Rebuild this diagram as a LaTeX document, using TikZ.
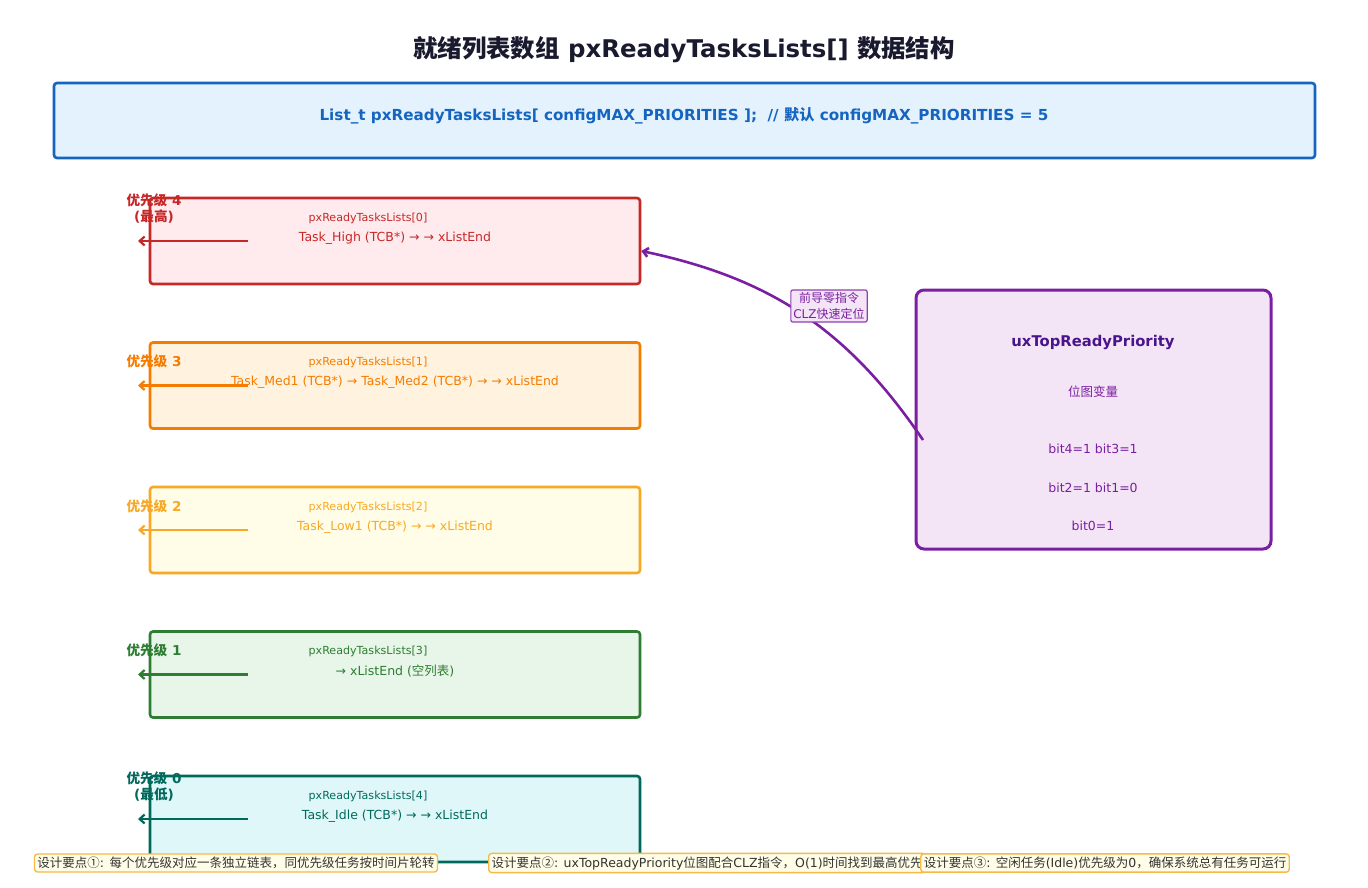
\documentclass[tikz,border=0pt]{standalone}
\usepackage{fontspec}
\setmainfont{DejaVu Sans}
\newfontfamily\cjkfont{Noto Sans CJK SC}
\newcommand\zh[1]{{\cjkfont #1}}
\usepackage{tikz}
\usetikzlibrary{arrows.meta, positioning}

\definecolor{titleclr}{HTML}{1A1A2E}
\definecolor{barblue}{HTML}{1565C0}
\definecolor{barbg}{HTML}{E3F2FD}
\definecolor{p4}{HTML}{C62828}\definecolor{p4bg}{HTML}{FFEBEE}
\definecolor{p3}{HTML}{F57C00}\definecolor{p3bg}{HTML}{FFF3E0}
\definecolor{p2}{HTML}{F9A825}\definecolor{p2bg}{HTML}{FFFDE7}
\definecolor{p1}{HTML}{2E7D32}\definecolor{p1bg}{HTML}{E8F5E9}
\definecolor{p0}{HTML}{00695C}\definecolor{p0bg}{HTML}{E0F7FA}
\definecolor{bitedge}{HTML}{7B1FA2}
\definecolor{bitbg}{HTML}{F3E5F5}
\definecolor{bitdark}{HTML}{4A148C}
\definecolor{noteedge}{HTML}{F6B94A}
\definecolor{notebg}{HTML}{FFFDE7}
\definecolor{notetext}{HTML}{333333}

\begin{document}
\begin{tikzpicture}[x=1pt, y=-1pt, >={Straight Barb[length=5pt,width=9pt]}, font=\fontsize{12.5}{15}\selectfont]
    \tikzset{listbox/.style={draw=#1, fill=#1bg, line width=2.6pt, rounded corners=3pt, minimum width=490pt, minimum height=86pt, inner sep=0pt},
             note/.style={draw=noteedge, fill=notebg, line width=1.4pt, rounded corners=3pt, inner sep=3pt, text=notetext, font=\fontsize{12.5}{14}\selectfont}}
    \useasboundingbox (0,0) rectangle (1368,887);

    \node[font=\bfseries\fontsize{24.4}{28}\selectfont, text=titleclr] (title) at (684,50) {\zh{就绪列表数组} pxReadyTasksLists[] \zh{数据结构}};

    \node[draw=barblue, fill=barbg, line width=2.6pt, rounded corners=3pt, minimum width=1261pt, minimum height=75pt] (decl) at (684.5,120.5) {};
    \node[text=barblue, font=\bfseries\fontsize{15.2}{18}\selectfont] (decltxt) at (684,116) {List\_t pxReadyTasksLists[ configMAX\_PRIORITIES ];\ \ // \zh{默认} configMAX\_PRIORITIES = 5};

    % one list per priority
    \foreach \clr/\task/\lab/\ly [count=\k from 0] in {
        p4/{Task\_High (TCB*) → → xListEnd}/{\zh{优先级} 4\\(\zh{最高})}/11,
        p3/{Task\_Med1 (TCB*) → Task\_Med2 (TCB*) → → xListEnd}/{\zh{优先级} 3}/19,
        p2/{Task\_Low1 (TCB*) → → xListEnd}/{\zh{优先级} 2}/19,
        p1/{→ xListEnd (\zh{空列表})}/{\zh{优先级} 1}/19,
        p0/{Task\_Idle (TCB*) → → xListEnd}/{\zh{优先级} 0\\(\zh{最低})}/11}
    {
        \pgfmathsetmacro\cy{241+144.5*\k}
        \node[listbox=\clr] (b\k) at (395,\cy) {};
        \node[text=\clr, font=\fontsize{11.1}{13}\selectfont] (idx\k) at (368,\cy-23) {pxReadyTasksLists[\k]};
        \node[text=\clr] (task\k) at (395,\cy-3) {\task};
        \coordinate (from\k) at (248,\cy);
        \coordinate (to\k) at (138,\cy);
        \draw[->, \clr, line width=2.2pt] (from\k) -- (to\k);
        \node[text=\clr, font=\bfseries\fontsize{13.6}{16}\selectfont, align=center, inner sep=0pt] (lvl\k) at (154,\cy-43+\ly) {\lab};
    }

    % bitmap
    \node[draw=bitedge, fill=bitbg, line width=3pt, rounded corners=8pt, minimum width=355pt, minimum height=259pt] (topbox) at (1093.5,419.5) {};
    \node[text=bitdark, font=\bfseries\fontsize{14.8}{17}\selectfont] (topname) at (1093,342) {uxTopReadyPriority};
    \node[text=bitedge] (topkind) at (1093,392) {\zh{位图变量}};
    \node[text=bitedge] (bits43) at (1093,449) {bit4=1 bit3=1};
    \node[text=bitedge] (bits21) at (1093,488) {bit2=1 bit1=0};
    \node[text=bitedge] (bits0) at (1093,526) {bit0=1};

    \coordinate (clz) at (923,440);
    \coordinate (hit) at ([yshift=-10pt]b0.east);
    \draw[->, bitedge, line width=2.6pt] (clz) to[bend right=22] (hit);
    \node[draw=bitedge!85, fill=bitbg, rounded corners=2pt, line width=1.2pt, text=bitedge, align=center, inner sep=2.5pt, font=\fontsize{12}{16}\selectfont] (clzlab) at (829,306) {\zh{前导零指令}\\CLZ\zh{快速定位}};

    % notes
    \node[note] (n1) at (236,863) {\zh{设计要点①}: \zh{每个优先级对应一条独立链表，同优先级任务按时间片轮转}};
    \node[note, anchor=west] (n2) at (488,863) {\zh{设计要点②}: uxTopReadyPriority\zh{位图配合}CLZ\zh{指令，}O(1)\zh{时间找到最高优先}};
    \node[note] (n3) at (1105,863) {\zh{设计要点③}: \zh{空闲任务}(Idle)\zh{优先级为}0\zh{，确保系统总有任务可运行}};
\end{tikzpicture}
\end{document}
